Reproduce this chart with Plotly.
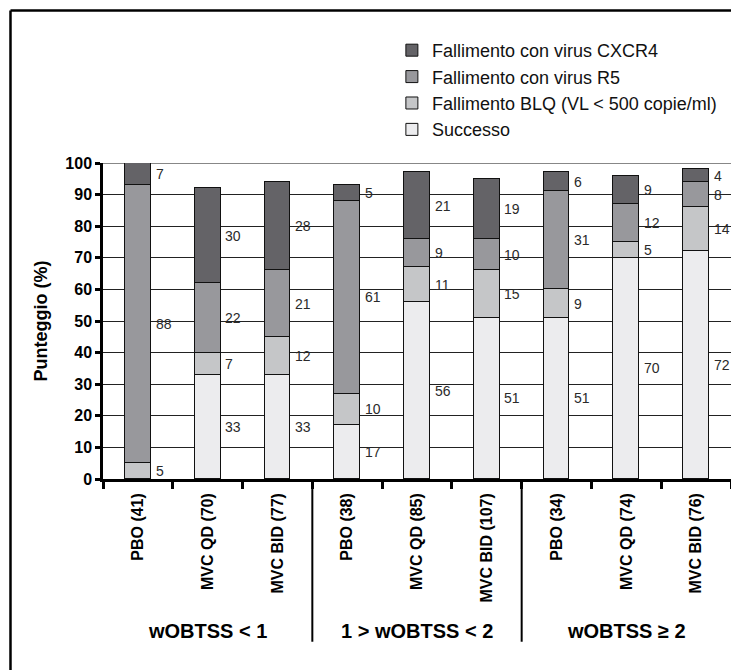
import plotly.graph_objects as go

categories = ["PBO (41)", "MVC QD (70)", "MVC BID (77)",
              "PBO (38)", "MVC QD (85)", "MVC BID (107)",
              "PBO (34)", "MVC QD (74)", "MVC BID (76)"]
groups = ["wOBTSS < 1", "1 > wOBTSS < 2", "wOBTSS ≥ 2"]

successo = [0, 33, 33, 17, 56, 51, 51, 70, 72]
blq = [5, 7, 12, 10, 11, 15, 9, 5, 14]
r5 = [88, 22, 21, 61, 9, 10, 31, 12, 8]
cxcr4 = [7, 30, 28, 5, 21, 19, 6, 9, 4]

series = [
    ("Successo", successo, "#ececee"),
    ("Fallimento BLQ (VL < 500 copie/ml)", blq, "#c5c6c8"),
    ("Fallimento con virus R5", r5, "#98989c"),
    ("Fallimento con virus CXCR4", cxcr4, "#646367"),
]

FONT = "Arial"
xs = list(range(len(categories)))
BAR_W = 0.37

fig = go.Figure()
for i, (name, vals, col) in enumerate(series):
    fig.add_trace(go.Bar(
        x=xs, y=vals, name=name, width=BAR_W,
        marker=dict(color=col, line=dict(color="#111", width=1)),
        legendgroup=str(i), legendrank=100 - i, hoverinfo="y",
    ))

# value labels to the right of each segment
annotations = []
for j in xs:
    base = 0
    for name, vals, col in series:
        v = vals[j]
        if v > 0:
            annotations.append(dict(
                x=j + BAR_W / 2 + 0.04, y=base + v / 2, xref="x", yref="y",
                text=str(v), showarrow=False, xanchor="left", yanchor="middle",
                font=dict(family=FONT, size=14, color="#2a2a2a"),
            ))
        base += v

# group labels
for g, name in enumerate(groups):
    annotations.append(dict(
        x=g * 3 + 1, y=-0.482, xref="x", yref="paper", text=name,
        showarrow=False, xanchor="center", yanchor="middle",
        font=dict(family=FONT, size=20, color="#000", weight="bold"),
    ))

shapes = []
# group separators
for sx in [2.5, 5.5]:
    shapes.append(dict(type="line", xref="x", yref="paper", x0=sx, x1=sx,
                       y0=0, y1=-0.515, line=dict(color="#000", width=2)))
# top gridline at 100
shapes.append(dict(type="line", xref="paper", yref="y", x0=0, x1=1, y0=100, y1=100,
                   line=dict(color="#111", width=1.2), layer="below"))
# outer frame (left and top)
shapes.append(dict(type="line", xref="paper", yref="paper", x0=-0.1473, x1=-0.1473,
                   y0=-0.65, y1=1.4826, line=dict(color="#000", width=2.5)))
shapes.append(dict(type="line", xref="paper", yref="paper", x0=-0.1473, x1=1.03,
                   y0=1.4826, y1=1.4826, line=dict(color="#000", width=2.5)))

fig.update_layout(
    width=731, height=662,
    margin=dict(l=95, r=8, t=155, b=191),
    paper_bgcolor="white", plot_bgcolor="white",
    barmode="stack", bargap=0,
    font=dict(family=FONT, color="#000"),
    showlegend=True,
    legend=dict(
        x=0.46, y=1.4146, xanchor="left", yanchor="top",
        traceorder="grouped", tracegroupgap=0,
        font=dict(family=FONT, size=18, color="#111"),
        bgcolor="rgba(0,0,0,0)", itemwidth=30,
    ),
    xaxis=dict(
        range=[-0.5, 8.5], tickmode="array", tickvals=xs, ticktext=categories,
        tickangle=-90, ticks="outside", ticklen=5, tickcolor="rgba(0,0,0,0)",
        tickfont=dict(family=FONT, size=16, color="#000", weight="bold"),
        showline=True, linecolor="#000", linewidth=2.5, showgrid=False,
        zeroline=False, fixedrange=True,
        minor=dict(tickmode="array", tickvals=[k + 0.5 for k in range(-1, 9)],
                   ticks="outside", ticklen=7, tickwidth=2.5, tickcolor="#000",
                   showgrid=False),
    ),
    yaxis=dict(
        range=[0, 100], tickmode="array", tickvals=list(range(0, 101, 10)),
        ticks="outside", ticklen=5, tickwidth=2.5, tickcolor="#000",
        tickfont=dict(family=FONT, size=16, color="#000", weight="bold"),
        showline=True, linecolor="#000", linewidth=2.5,
        showgrid=True, gridcolor="#222", gridwidth=1, zeroline=False,
        title=dict(text="Punteggio (%)", standoff=14,
                   font=dict(family=FONT, size=18, color="#000", weight="bold")),
        fixedrange=True,
    ),
    annotations=annotations, shapes=shapes,
)

fig.write_html("out.html")
